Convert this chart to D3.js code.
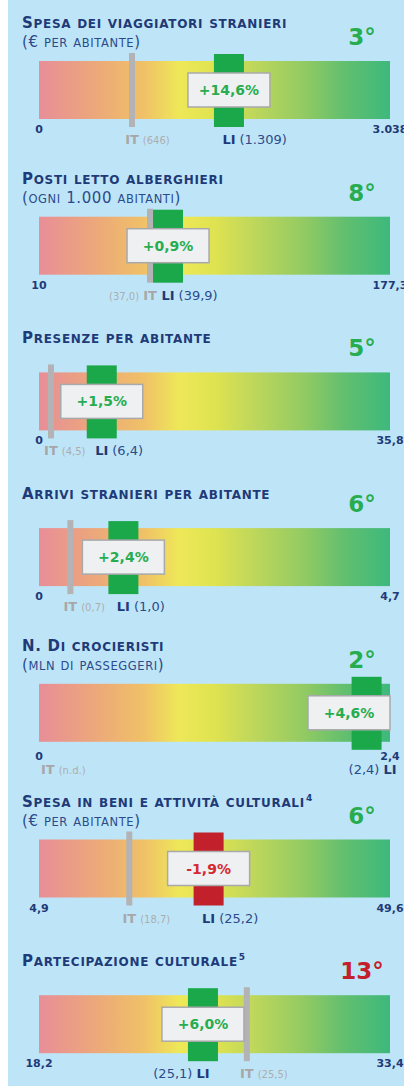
<!DOCTYPE html>
<html>
<head>
<meta charset="utf-8">
<script src="https://cdn.jsdelivr.net/npm/d3@7"></script>
<style>
  html, body { margin: 0; padding: 0; background: #fff; }
  svg { display: block; font-family: "DejaVu Sans", Verdana, sans-serif; }
</style>
</head>
<body>
<div id="chart"></div>
<script>
// #### data
const titles = [
  'Spesa dei viaggiatori stranieri',
  'Posti letto alberghieri',
  'Presenze per abitante',
  'Arrivi stranieri per abitante',
  'N. Di crocieristi',
  'Spesa in beni e attività culturali',
  'Partecipazione culturale',
];
const titleNotes = [null, null, null, null, null, '4', '5'];
const subtitles = [
  '(€ per abitante)',
  '(ogni 1.000 abitanti)',
  null,
  null,
  '(mln di passeggeri)',
  '(€ per abitante)',
  null,
];
const minValues = [0, 10, 0, 0, 0, 4.9, 18.2];
const maxValues = [3038, 177.3, 35.8, 4.7, 2.4, 49.6, 33.4];
const decimals = [0, 1, 1, 1, 1, 1, 1];
const itValues = [646, 37.0, 4.5, 0.7, null, 18.7, 25.5];
const liValues = [1309, 39.9, 6.4, 1.0, 2.4, 25.2, 25.1];
const changes = [14.6, 0.9, 1.5, 2.4, 4.6, -1.9, 6.0];
const ranks = [3, 8, 5, 6, 2, 6, 13];
// The original is not to scale: these are the spots on each min-max bar
// where the marks are drawn.
const itMarkAt = [805, 62.9, 1.22, 0.42, null, 16.4, 27.2];
const liMarkAt = [1644, 71.5, 6.4, 1.13, 2.24, 26.5, 25.3];

// #### layout
const width = 404, height = 1086;
const barX0 = 39, barX1 = 390;
const barH = 58;
const firstBarTop = 61, panelStep = 155.7;

const navy = '#1f3a78', navyLight = '#2c4a8c';
const green = '#27ad4f', red = '#d42a31';
const markGreen = '#1aa84a', markRed = '#c2202a';
const gray = '#a7a7a9';

const it = d3.formatLocale({decimal: ',', thousands: '.', grouping: [3], currency: ['€', ''], minus: '-'});
const fmtValue = i => it.format(`,.${ decimals[i] }f`);
const fmtTick = (v, i) => fmtValue(i)(v).replace(/,0$/, '');
const fmtChange = it.format('+.1f');

const svg = d3.select('#chart').append('svg')
  .attr('width', width)
  .attr('height', height);

svg.append('rect').attr('width', width).attr('height', height).attr('fill', '#fff');
svg.append('rect').attr('x', 8).attr('width', width - 8).attr('height', height).attr('fill', '#bee5f7');

const grad = svg.append('defs').append('linearGradient')
  .attr('id', 'scaleGrad')
  .attr('x1', 0).attr('x2', 1).attr('y1', 0).attr('y2', 0);
[
  [0, '#e88e98'], [0.15, '#eca67c'], [0.3, '#f0c167'], [0.4, '#eee858'],
  [0.5, '#dfe350'], [0.62, '#bcd65c'], [0.75, '#94cb62'], [0.87, '#62bf6f'], [1, '#3db97c'],
].forEach(([o, c]) => grad.append('stop').attr('offset', o).attr('stop-color', c));

// Small caps: capitals and digits at the big size, lower case letters as small capitals
const smallCaps = (text, str, big, small) => {
  const runs = [];
  for (const ch of str) {
    const isSmall = ch !== ch.toUpperCase();
    const last = runs[runs.length - 1];
    if (last && last.small === isSmall) last.s += ch;
    else runs.push({small: isSmall, s: ch});
  }
  runs.forEach(r => {
    text.append('tspan')
      .attr('font-size', r.small ? small : big)
      .text(r.small ? r.s.toUpperCase() : r.s);
  });
};

titles.forEach((title, i) => {
  const top = firstBarTop + i * panelStep;
  const x = d3.scaleLinear().domain([minValues[i], maxValues[i]]).range([barX0, barX1]);
  const g = svg.append('g').attr('class', 'panel');
  const notAvailable = itValues[i] == null;

  // Title
  const t1 = g.append('text')
    .attr('x', 22)
    .attr('y', top + (subtitles[i] ? -33 : -29))
    .attr('fill', navy)
    .attr('font-weight', 'bold')
    .attr('letter-spacing', 0.7);
  smallCaps(t1, title, 15, 12);
  if (titleNotes[i]) {
    t1.append('tspan').attr('font-size', 9).attr('dy', -6).attr('dx', 1).text(titleNotes[i]);
  }
  if (subtitles[i]) {
    const t2 = g.append('text')
      .attr('x', 22)
      .attr('y', top - 14)
      .attr('fill', navyLight)
      .attr('letter-spacing', 0.6);
    smallCaps(t2, subtitles[i], 15, 11.5);
  }

  // Rank
  g.append('text')
    .attr('x', 362)
    .attr('y', top - 16)
    .attr('text-anchor', 'middle')
    .attr('font-size', 23)
    .attr('font-weight', 'bold')
    .attr('fill', ranks[i] > 10 ? markRed : green)
    .text(ranks[i] + '°');

  // Gradient bar
  g.append('rect')
    .attr('x', x(minValues[i]))
    .attr('y', top)
    .attr('width', x(maxValues[i]) - x(minValues[i]))
    .attr('height', barH)
    .attr('fill', 'url(#scaleGrad)');

  // Min / max labels
  const tickY = top + barH + (notAvailable ? 18 : 14);
  [minValues[i], maxValues[i]].forEach(v => {
    g.append('text')
      .attr('x', x(v))
      .attr('y', tickY)
      .attr('text-anchor', 'middle')
      .attr('font-size', 11)
      .attr('font-weight', 'bold')
      .attr('fill', navy)
      .text(fmtTick(v, i));
  });

  // IT line
  const itX = notAvailable ? null : x(itMarkAt[i]);
  if (!notAvailable) {
    g.append('rect')
      .attr('x', itX - 3)
      .attr('y', top - 8)
      .attr('width', 6)
      .attr('height', barH + 16)
      .attr('fill', '#b3b3b5');
  }

  // LI mark
  const liX = x(liMarkAt[i]);
  const up = changes[i] >= 0;
  g.append('rect')
    .attr('x', liX - 15)
    .attr('y', top - 7)
    .attr('width', 30)
    .attr('height', barH + 15)
    .attr('fill', up ? markGreen : markRed);

  // Change box, kept inside the bar
  const boxW = 82, boxH = 34;
  const boxX = Math.max(barX0, Math.min(barX1 - boxW, liX - boxW / 2));
  g.append('rect')
    .attr('x', boxX)
    .attr('y', top + barH / 2 - boxH / 2)
    .attr('width', boxW)
    .attr('height', boxH)
    .attr('fill', '#eef0f2')
    .attr('stroke', '#a9a9ab')
    .attr('stroke-width', 1.5);
  g.append('text')
    .attr('x', boxX + boxW / 2)
    .attr('y', top + barH / 2 + 5)
    .attr('text-anchor', 'middle')
    .attr('font-size', 14)
    .attr('font-weight', 'bold')
    .attr('fill', up ? green : red)
    .text(fmtChange(changes[i]) + '%');

  // Mark labels: the code sits under its mark, the value beside it
  const labelY = top + barH + (notAvailable ? 32 : 25);
  const close = !notAvailable && Math.abs(itX - liX) < 48;
  const drawLabel = (code, valueText, cx, side, codeColor, valueColor, valueSize) => {
    const c = g.append('text')
      .attr('x', cx)
      .attr('y', labelY)
      .attr('text-anchor', side === 'start' ? 'start' : 'middle')
      .attr('font-size', 13)
      .attr('font-weight', 'bold')
      .attr('fill', codeColor)
      .text(code);
    const w = c.node().getComputedTextLength();
    const left = side === 'start' ? cx : cx - w / 2;
    const right = left + w;
    const toLeft = side === 'left';
    g.append('text')
      .attr('x', toLeft ? left - 4 : right + 4)
      .attr('y', labelY)
      .attr('text-anchor', toLeft ? 'end' : 'start')
      .attr('font-size', valueSize)
      .attr('fill', valueColor)
      .text(valueText);
  };

  if (notAvailable) {
    drawLabel('IT', '(n.d.)', barX0 + 2, 'start', gray, '#adadaf', 10);
  } else {
    const itSide = close && itX < liX ? 'left' : 'right';
    drawLabel('IT', `(${ fmtValue(i)(itValues[i]) })`, itX, itSide, gray, '#adadaf', 10);
  }
  const atEnd = liValues[i] === maxValues[i];
  const liSide = atEnd || (close && liX < itX) ? 'left' : 'right';
  drawLabel('LI', `(${ fmtValue(i)(liValues[i]) })`, atEnd ? x(liValues[i]) : liX, liSide, navy, navyLight, 13);
});
</script>
</body>
</html>
